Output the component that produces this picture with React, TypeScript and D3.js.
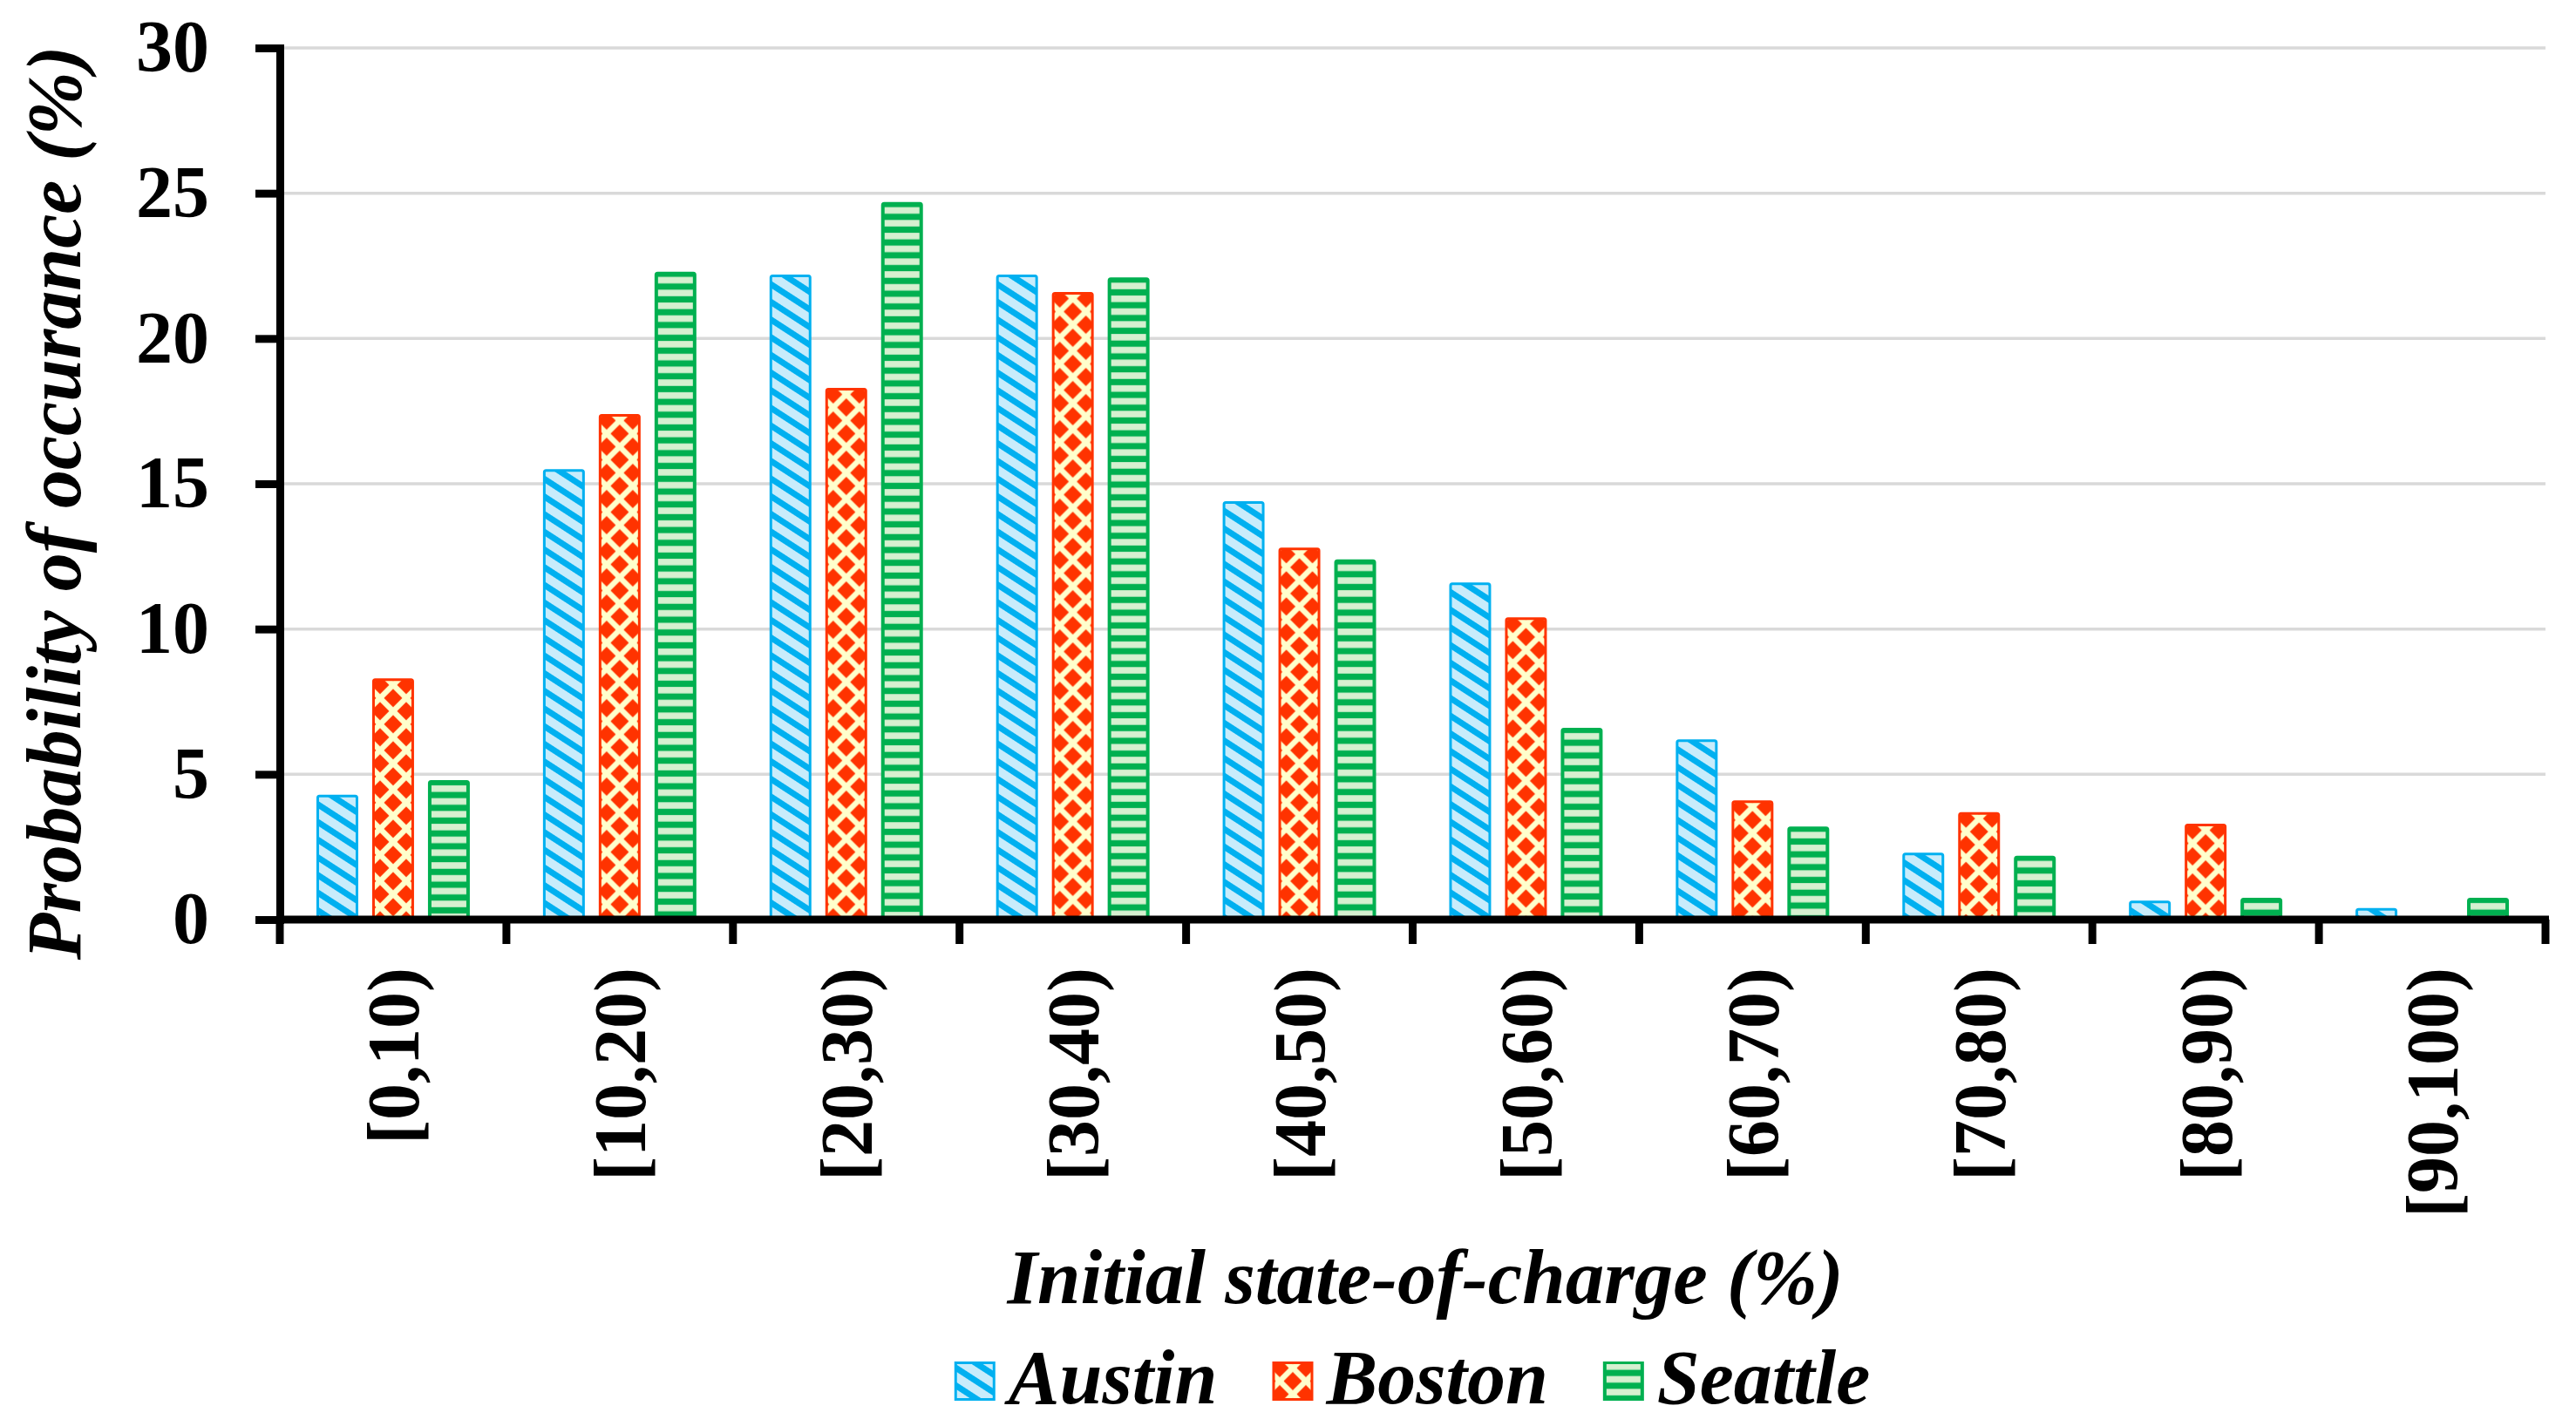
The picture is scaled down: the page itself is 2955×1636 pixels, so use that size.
import { useEffect, useRef } from "react";
import * as d3 from "d3";

const categories = ["[0,10)", "[10,20)", "[20,30)", "[30,40)", "[40,50)", "[50,60)", "[60,70)", "[70,80)", "[80,90)", "[90,100)"];
const seriesNames = ["Austin", "Boston", "Seattle"];
const austin = [4.3, 15.5, 22.2, 22.2, 14.4, 11.6, 6.2, 2.3, 0.65, 0.4];
const boston = [8.3, 17.4, 18.3, 21.6, 12.8, 10.4, 4.1, 3.7, 3.3, 0];
const seattle = [4.8, 22.3, 24.7, 22.1, 12.4, 6.6, 3.2, 2.2, 0.75, 0.75];
const yTicks = [0, 5, 10, 15, 20, 25, 30];

const W = 2955;
const H = 1636;
const FONT = "'Liberation Serif', 'Times New Roman', serif";

const colors: Record<string, { edge: string; light: string }> = {
  Austin: { edge: "#00b0f0", light: "#c8ecfb" },
  Boston: { edge: "#ff3300", light: "#ffffcc" },
  Seattle: { edge: "#00b050", light: "#d6f0d0" },
};

export default function App() {
  const svgRef = useRef<SVGSVGElement>(null);

  useEffect(() => {
    if (!svgRef.current) return;
    const svg = d3.select(svgRef.current);
    svg.selectAll("*").remove();

    const values: Record<string, number[]> = { Austin: austin, Boston: boston, Seattle: seattle };

    const x0 = d3.scaleBand<string>()
      .domain(categories)
      .range([321, 2920])
      .paddingInner(0.323)
      .paddingOuter(0.1615);
    const x1 = d3.scaleBand<string>()
      .domain(seriesNames)
      .range([0, x0.bandwidth()])
      .paddingInner(0.25);
    const y = d3.scaleLinear().domain([0, 30]).range([1055, 55]);

    const defs = svg.append("defs");

    // one pattern per bar so the hatch lines up with each bar's edge
    const makePattern = (id: string, series: string, bx: number, by: number, bw: number) => {
      const c = colors[series];
      if (series === "Austin") {
        const p = defs.append("pattern")
          .attr("id", id)
          .attr("patternUnits", "userSpaceOnUse")
          .attr("width", 300)
          .attr("height", 17)
          .attr("patternTransform", `translate(${bx},${by}) rotate(33)`);
        p.append("rect").attr("width", 300).attr("height", 17).attr("fill", c.light);
        p.append("rect").attr("y", 5).attr("width", 300).attr("height", 7).attr("fill", c.edge);
      } else if (series === "Boston") {
        const p = defs.append("pattern")
          .attr("id", id)
          .attr("patternUnits", "userSpaceOnUse")
          .attr("x", bx + bw / 2 - 15)
          .attr("y", by + 7.5)
          .attr("width", 30)
          .attr("height", 30);
        p.append("rect").attr("width", 30).attr("height", 30).attr("fill", c.light);
        const r = 10.5;
        [[0, 0], [30, 0], [0, 30], [30, 30], [15, 15]].forEach(([cx, cy]) => {
          p.append("path")
            .attr("d", `M${cx},${cy - r}L${cx + r},${cy}L${cx},${cy + r}L${cx - r},${cy}Z`)
            .attr("fill", c.edge);
        });
      } else {
        const p = defs.append("pattern")
          .attr("id", id)
          .attr("patternUnits", "userSpaceOnUse")
          .attr("x", bx)
          .attr("y", by)
          .attr("width", bw)
          .attr("height", 14.7);
        p.append("rect").attr("width", bw).attr("height", 14.7).attr("fill", c.edge);
        p.append("rect").attr("x", 4).attr("y", 6).attr("width", bw - 8).attr("height", 7.5).attr("fill", c.light);
      }
    };

    // gridlines
    svg.append("g")
      .selectAll("line")
      .data(yTicks.filter(v => v > 0))
      .enter()
      .append("line")
      .attr("x1", 321)
      .attr("x2", 2920)
      .attr("y1", d => y(d))
      .attr("y2", d => y(d))
      .style("stroke", "#d9d9d9")
      .style("stroke-width", 3.5);

    // bars
    seriesNames.forEach(s => {
      const g = svg.append("g");
      values[s].forEach((v, i) => {
        if (v <= 0) return;
        const bx = x0(categories[i])! + x1(s)!;
        const bw = x1.bandwidth();
        const by = y(v);
        const id = `pat-${s}-${i}`;
        makePattern(id, s, bx, by, bw);
        g.append("rect")
          .attr("x", bx + 1.5)
          .attr("y", by + 1.5)
          .attr("width", bw - 3)
          .attr("height", Math.max(0, y(0) - by - 1.5))
          .attr("rx", 2)
          .style("fill", `url(#${id})`)
          .style("stroke", colors[s].edge)
          .style("stroke-width", 3);
      });
    });

    // y axis
    const yAxis = svg.append("g")
      .attr("transform", "translate(321,0)")
      .call(d3.axisLeft(y).tickValues(yTicks).tickSize(28).tickSizeOuter(0).tickPadding(53));
    yAxis.select(".domain")
      .style("stroke", "#000")
      .style("stroke-width", 9)
      .style("stroke-linecap", "square");
    yAxis.selectAll(".tick line").style("stroke", "#000").style("stroke-width", 9);
    yAxis.selectAll(".tick text")
      .style("font-family", FONT)
      .style("font-size", "84px")
      .style("font-weight", "700")
      .style("fill", "#000");

    // x axis
    const boundaries = d3.range(categories.length + 1).map(i => x0.range()[0] + i * x0.step());
    svg.append("line")
      .attr("x1", 321)
      .attr("x2", 2924)
      .attr("y1", y(0))
      .attr("y2", y(0))
      .style("stroke", "#000")
      .style("stroke-width", 9);
    svg.append("g")
      .selectAll("line")
      .data(boundaries)
      .enter()
      .append("line")
      .attr("x1", d => d)
      .attr("x2", d => d)
      .attr("y1", y(0))
      .attr("y2", y(0) + 28)
      .style("stroke", "#000")
      .style("stroke-width", 9);

    svg.append("g")
      .selectAll("text")
      .data(categories)
      .enter()
      .append("text")
      .attr("transform", d => `translate(${x0(d)! + x0.bandwidth() / 2},1110) rotate(-90)`)
      .attr("dy", "0.35em")
      .attr("text-anchor", "end")
      .style("font-family", FONT)
      .style("font-size", "84px")
      .style("font-weight", "700")
      .text(d => d);

    // axis titles
    svg.append("text")
      .attr("x", 1635)
      .attr("y", 1495)
      .attr("text-anchor", "middle")
      .style("font-family", FONT)
      .style("font-size", "89px")
      .style("font-weight", "700")
      .style("font-style", "italic")
      .text("Initial state-of-charge (%)");

    svg.append("text")
      .attr("transform", "translate(92,577) rotate(-90)")
      .attr("text-anchor", "middle")
      .style("font-family", FONT)
      .style("font-size", "88px")
      .style("font-weight", "700")
      .style("font-style", "italic")
      .text("Probability of occurance (%)");

    // legend
    const legend = svg.append("g");
    const patchW = 47;
    const patchH = 45;
    const gapText = 15;
    const gapItem = 63;
    const items = seriesNames.map(s => {
      const t = legend.append("text")
        .attr("y", 1610)
        .style("font-family", FONT)
        .style("font-size", "88px")
        .style("font-weight", "700")
        .style("font-style", "italic")
        .text(s);
      const len = (t.node() as SVGTextElement).getComputedTextLength();
      return { s, t, len };
    });
    const total = d3.sum(items, d => patchW + gapText + d.len) + gapItem * (items.length - 1);
    let cx = 1620 - total / 2;
    items.forEach(({ s, t, len }) => {
      const px = cx;
      const py = 1562;
      const id = `pat-legend-${s}`;
      makePattern(id, s, px, s === "Boston" ? py : py - 4, patchW);
      legend.append("rect")
        .attr("x", px + 1.5)
        .attr("y", py + 1.5)
        .attr("width", patchW - 3)
        .attr("height", patchH - 3)
        .style("fill", `url(#${id})`)
        .style("stroke", colors[s].edge)
        .style("stroke-width", 3);
      t.attr("x", px + patchW + gapText);
      cx += patchW + gapText + len + gapItem;
    });
  }, []);

  return (
    <svg
      ref={svgRef}
      width={W}
      height={H}
      style={{ position: "absolute", left: 0, top: 0, background: "#fff" }}
    />
  );
}
